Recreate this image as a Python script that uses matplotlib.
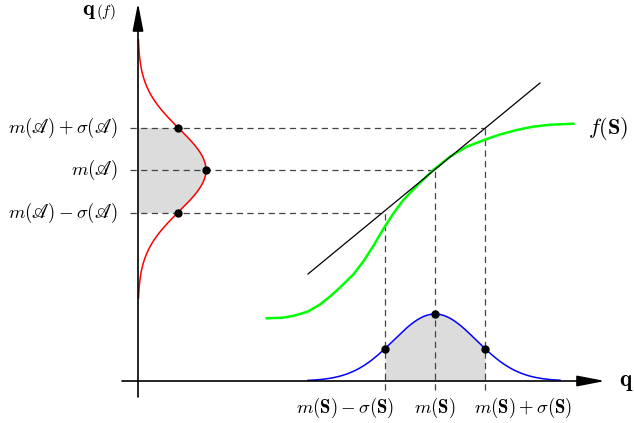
import numpy as np
import matplotlib.pyplot as plt

plt.rcParams['mathtext.fontset'] = 'cm'

# coordinates: origin at the axes crossing, units roughly pixels
m_S = 297          # mean of S on the horizontal axis
s_S = 50           # spread marked on S
blue_peak = 67
blue_width = 41.5
blue_span = [170, 422]

m_A = 211          # mean of q(f) on the vertical axis
s_A = 42.5
red_peak = 68
red_width = 41.2
red_span = [83, 341]

# green f(S) curve
green_x = [128.7, 145, 157, 170, 182, 192, 202, 215.3, 225.3, 235.3, 245.3, 255.3,
           265.3, 278.7, 295.3, 312, 328.7, 348, 362, 378.7, 395, 412, 435.3]
green_y = [62.7, 63.3, 65.5, 69.5, 76.5, 84.5, 93.5, 106.5, 119.5, 135, 152, 167.5,
           181, 195, 211, 224.3, 234.3, 241.7, 246.5, 251, 254.3, 256.3, 257.3]

# tangent line end points
tan_x = [170, 402]
tan_y = [107, 298]

left_labels = [r'$m(\mathscr{A})+\sigma(\mathscr{A})$', r'$m(\mathscr{A})$',
               r'$m(\mathscr{A})-\sigma(\mathscr{A})$']
bottom_labels = [r'$m(\mathbf{S})-\sigma(\mathbf{S})$', r'$m(\mathbf{S})$',
                 r'$m(\mathbf{S})+\sigma(\mathbf{S})$']

fig = plt.figure(figsize=(6.34, 4.23), dpi=100)
ax = fig.add_axes([0, 0, 1, 1])
ax.set_xlim(-138, 496)
ax.set_ylim(-42, 381)
ax.axis('off')

def gauss(t, m, peak, w):
    return peak * np.exp(-0.5 * ((t - m) / w) ** 2)

# blue density of S
bx = np.linspace(blue_span[0], blue_span[1], 300)
ax.plot(bx, gauss(bx, m_S, blue_peak, blue_width), color='blue', lw=1.1, zorder=3)
fx = np.linspace(m_S - s_S, m_S + s_S, 200)
ax.fill_between(fx, 0, gauss(fx, m_S, blue_peak, blue_width), color='#dcdcdc', lw=0, zorder=1)

# red density of q(f)
ry = np.linspace(red_span[0], red_span[1], 300)
ax.plot(gauss(ry, m_A, red_peak, red_width), ry, color='red', lw=1.1, zorder=3)
fy = np.linspace(m_A - s_A, m_A + s_A, 200)
ax.fill_betweenx(fy, 0, gauss(fy, m_A, red_peak, red_width), color='#dcdcdc', lw=0, zorder=1)

# f(S) and tangent
ax.plot(green_x, green_y, color='#00ff00', lw=1.8, zorder=3, solid_joinstyle='round')
ax.plot(tan_x, tan_y, color='black', lw=0.9, zorder=3)

# dashed guide lines
for k in [1, 0, -1]:
    sx = m_S + k * s_S
    yl = m_A + k * s_A
    ax.plot([-8, sx], [yl, yl], color='#444444', lw=0.9, dashes=(5, 3.5), zorder=2)
    ax.plot([sx, sx], [-9, yl], color='#444444', lw=0.9, dashes=(5, 3.5), zorder=2)

# dots
for k in [-1, 0, 1]:
    yl = m_A + k * s_A
    ax.plot(gauss(yl, m_A, red_peak, red_width), yl, 'o', color='black', ms=5, zorder=4)
    sx = m_S + k * s_S
    ax.plot(sx, gauss(sx, m_S, blue_peak, blue_width), 'o', color='black', ms=5, zorder=4)

# axes with arrows
arrow = dict(arrowstyle='-|>,head_length=1.7,head_width=0.33', color='black', lw=1.2,
             shrinkA=0, shrinkB=0)
ax.annotate('', xy=(467, 0), xytext=(-16, 0), arrowprops=arrow)
ax.annotate('', xy=(0, 378), xytext=(0, -16), arrowprops=arrow)

# labels
for k, lab in zip([1, 0, -1], left_labels):
    ax.text(-20, m_A + k * s_A, lab, ha='right', va='center', fontsize=13.5)
for xb, lab in zip([207, 297, 385], bottom_labels):
    ax.text(xb, -27, lab, ha='center', va='center', fontsize=13.5)

ax.text(481, 0, r'$\mathbf{q}$', ha='left', va='center', fontsize=16.5)
ax.text(-42, 370, r'$\mathbf{q}$', ha='right', va='center', fontsize=16)
ax.text(-42, 369, r'$(f)$', ha='left', va='center', fontsize=11)
ax.text(450, 253, r'$f(\mathbf{S})$', ha='left', va='center', fontsize=16)

fig.savefig('out.png', dpi=100)
